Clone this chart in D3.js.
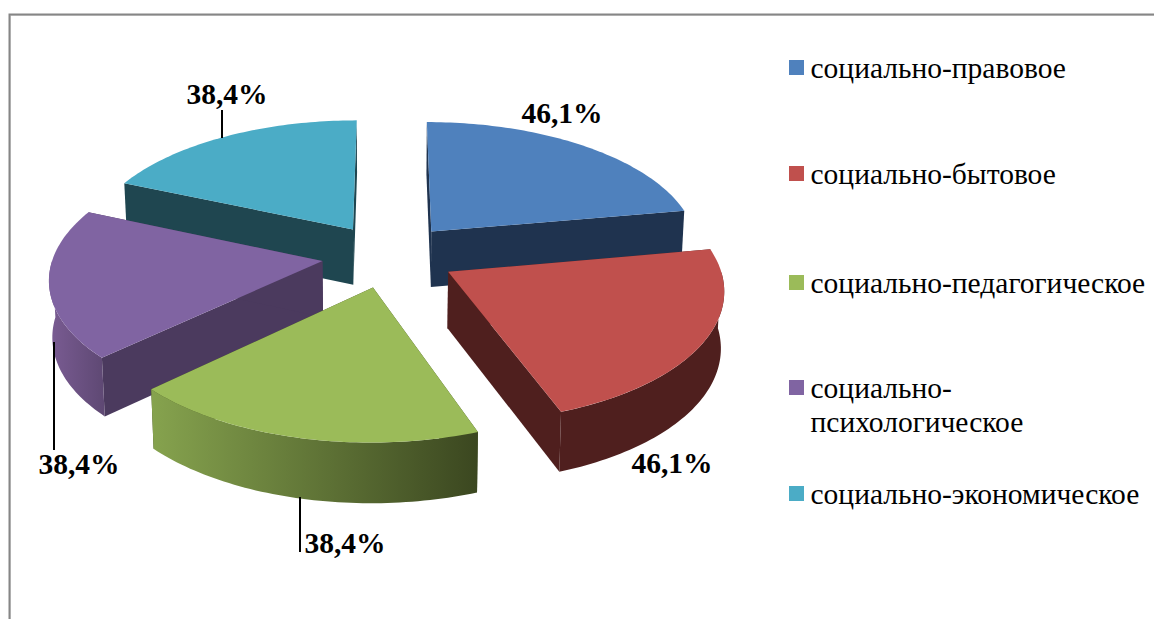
<!DOCTYPE html>
<html>
<head>
<meta charset="utf-8">
<script src="https://cdn.jsdelivr.net/npm/d3@7/dist/d3.min.js"></script>
<style>
  html, body { margin: 0; padding: 0; background: #fff; overflow: hidden; }
  text { font-family: "Liberation Serif", serif; fill: #000; }
</style>
</head>
<body>
<div id="container"></div>
<script>
// chart data
let categories = ["социально-правовое", "социально-бытовое", "социально-педагогическое", "социально-психологическое", "социально-экономическое"];
let values = [46.1, 46.1, 38.4, 38.4, 38.4];

// legend text, the long one wraps on two lines
let legendLines = [["социально-правовое"], ["социально-бытовое"], ["социально-педагогическое"], ["социально-", "психологическое"], ["социально-экономическое"]];

// colours
let topColors = ["#4f81bd", "#c0504d", "#9bbb59", "#8064a2", "#4bacc6"];
let cutColors = ["#1f334f", "#4f1f1e", "#3d4a20", "#4b3a5e", "#1f4650"];
let rimLeft = ["#1f334f", "#4f1f1e", "#86a34e", "#7a5c93", "#1f4650"];
let rimRight = ["#1f334f", "#4f1f1e", "#3b4720", "#5e4873", "#1f4650"];

// layout
let w = 1154;
let h = 619;
let cx = 389;
let cy = 255.5;
let rx = 269;
let ry = 128;
let explode = 0.25;
let persp = 0.12;
let depth = 56;
let drawOrder = [4, 0, 3, 1, 2];
let legendY = [60, 166, 275, 380, 486];
let labelPos = [[562, 123], [672, 473], [345, 553], [79, 474], [227, 104]];
let leaders = [null, null, [300, 497, 300, 552], [54, 342, 54, 450], [222, 110, 222, 138]];

let viz = d3.select("#container")
  .append("svg")
    .attr("width", w)
    .attr("height", h)
    .style("display", "block")
;

// frame of the chart, only top and left are in the picture
viz.append("path")
  .attr("d", "M10.5," + h + "V15.5H" + w)
  .attr("fill", "none")
  .attr("stroke", "#d8d8d8")
  .attr("stroke-width", 1);
viz.append("path")
  .attr("d", "M9.5," + h + "V14.5H" + w)
  .attr("fill", "none")
  .attr("stroke", "#868686")
  .attr("stroke-width", 2);

let pie = d3.pie().sort(null).value(function(d){ return d; });
let slices = pie(values);

// ground plane to screen, with a bit of perspective
function project(u, v, down){
  let p = 1 / (1 + persp * v);
  let x = rx * u * p;
  let y = -ry * v * p;
  if(down){
    x = x * 0.99;
    y = y + depth * Math.sqrt(p);
  }
  return [cx + x, cy + y];
}

function arcPoints(slice, a0, a1, down){
  let mid = (slice.startAngle + slice.endAngle) / 2;
  let ox = explode * Math.sin(mid);
  let oy = explode * Math.cos(mid);
  let n = Math.max(2, Math.ceil((a1 - a0) / 0.02));
  return d3.range(n + 1).map(function(i){
    let a = a0 + (a1 - a0) * i / n;
    return project(ox + Math.sin(a), oy + Math.cos(a), down);
  });
}

function apex(slice, down){
  let mid = (slice.startAngle + slice.endAngle) / 2;
  return project(explode * Math.sin(mid), explode * Math.cos(mid), down);
}

let line = d3.line();
let defs = viz.append("defs");
let pieGroup = viz.append("g").attr("class", "pie");

drawOrder.forEach(function(i){
  let s = slices[i];
  let g = pieGroup.append("g").attr("class", "slice");

  // the two cut faces
  [s.startAngle, s.endAngle].forEach(function(a){
    let outerTop = arcPoints(s, a, a, false)[0];
    let outerBottom = arcPoints(s, a, a, true)[0];
    g.append("path")
      .attr("d", line([apex(s, false), outerTop, outerBottom, apex(s, true)]) + "Z")
      .attr("fill", cutColors[i]);
  });

  // outer wall, only the part that faces us
  let a0 = Math.max(s.startAngle, Math.PI / 2);
  let a1 = Math.min(s.endAngle, Math.PI * 1.5);
  if(a1 > a0){
    let upper = arcPoints(s, a0, a1, false);
    let lower = arcPoints(s, a0, a1, true).reverse();
    let xs = d3.extent(upper.concat(lower), function(p){ return p[0]; });
    let grad = defs.append("linearGradient")
      .attr("id", "rim" + i)
      .attr("gradientUnits", "userSpaceOnUse")
      .attr("x1", xs[0]).attr("x2", xs[1])
      .attr("y1", 0).attr("y2", 0);
    grad.append("stop").attr("offset", "0%").attr("stop-color", rimLeft[i]);
    grad.append("stop").attr("offset", "100%").attr("stop-color", rimRight[i]);
    g.append("path")
      .attr("d", line(upper.concat(lower)) + "Z")
      .attr("fill", "url(#rim" + i + ")");
  }

  // top face
  let topPts = [apex(s, false)].concat(arcPoints(s, s.startAngle, s.endAngle, false));
  g.append("path")
    .attr("d", line(topPts) + "Z")
    .attr("fill", topColors[i]);
});

// leader lines
viz.selectAll(".leader")
  .data(leaders.filter(function(d){ return d; }))
  .enter()
  .append("line")
    .attr("class", "leader")
    .attr("x1", function(d){ return d[0]; })
    .attr("y1", function(d){ return d[1]; })
    .attr("x2", function(d){ return d[2]; })
    .attr("y2", function(d){ return d[3]; })
    .attr("stroke", "#000")
    .attr("stroke-width", 2);

// data labels
let fmt = d3.formatLocale({decimal: ",", thousands: " ", grouping: [3], currency: ["", ""]}).format(".1f");
viz.selectAll(".label")
  .data(values)
  .enter()
  .append("text")
    .attr("class", "label")
    .attr("x", function(d, i){ return labelPos[i][0]; })
    .attr("y", function(d, i){ return labelPos[i][1]; })
    .attr("text-anchor", "middle")
    .style("font-size", "29.5px")
    .style("font-weight", "bold")
    .text(function(d){ return fmt(d) + "%"; });

// legend
let legend = viz.selectAll(".legend")
  .data(categories)
  .enter()
  .append("g")
    .attr("class", "legend")
    .attr("transform", function(d, i){ return "translate(789," + legendY[i] + ")"; });

legend.append("rect")
  .attr("width", 15)
  .attr("height", 15)
  .attr("fill", function(d, i){ return topColors[i]; });

legend.each(function(d, i){
  let item = d3.select(this);
  legendLines[i].forEach(function(txt, k){
    item.append("text")
      .attr("x", 21.5)
      .attr("y", 18 + k * 34)
      .style("font-size", "29.5px")
      .text(txt);
  });
});
</script>
</body>
</html>
